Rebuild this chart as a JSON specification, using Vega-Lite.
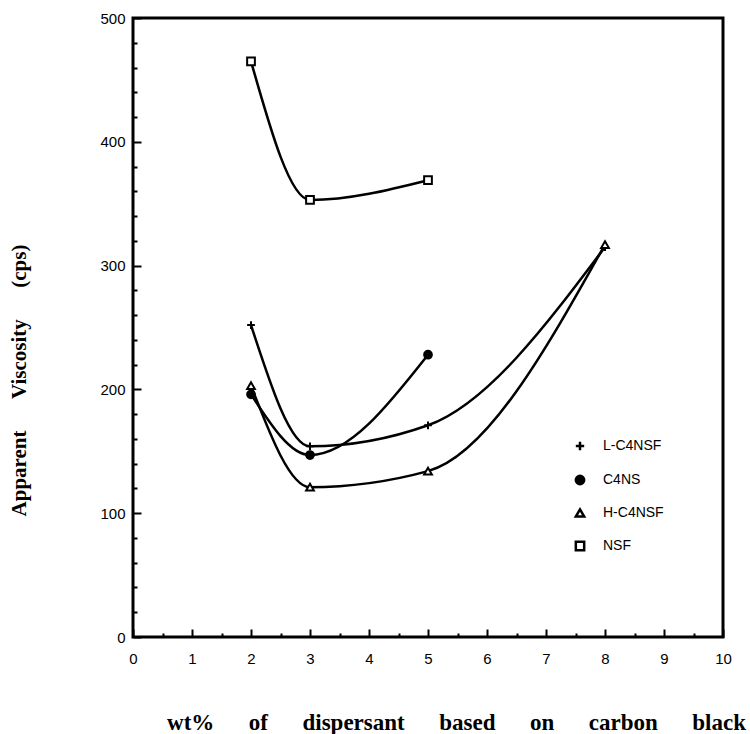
{
  "$schema": "https://vega.github.io/schema/vega-lite/v6.json",
  "width": 590,
  "height": 619,
  "autosize": {"type": "none"},
  "padding": {"left": 133, "top": 18, "right": 27, "bottom": 97},
  "background": "white",
  "config": {
    "view": {"stroke": "black", "strokeWidth": 3},
    "axis": {
      "domain": false,
      "ticks": true,
      "tickColor": "black",
      "tickWidth": 2,
      "tickSize": 8,
      "zindex": 1,
      "grid": false,
      "labelFont": "Liberation Sans",
      "labelFontSize": 15,
      "labelColor": "black",
      "titleFont": "Liberation Serif",
      "titleFontWeight": "bold",
      "titleColor": "black"
    }
  },
  "data": {
    "values": [
      {"series": "NSF", "x": 2, "y": 465},
      {"series": "NSF", "x": 3, "y": 353},
      {"series": "NSF", "x": 5, "y": 369},
      {"series": "L-C4NSF", "x": 2, "y": 252},
      {"series": "L-C4NSF", "x": 3, "y": 154},
      {"series": "L-C4NSF", "x": 5, "y": 171},
      {"series": "L-C4NSF", "x": 8, "y": 315},
      {"series": "C4NS", "x": 2, "y": 196},
      {"series": "C4NS", "x": 3, "y": 147},
      {"series": "C4NS", "x": 5, "y": 228},
      {"series": "H-C4NSF", "x": 2, "y": 203},
      {"series": "H-C4NSF", "x": 3, "y": 121},
      {"series": "H-C4NSF", "x": 5, "y": 134},
      {"series": "H-C4NSF", "x": 8, "y": 317}
    ]
  },
  "encoding": {
    "x": {
      "field": "x", "type": "quantitative",
      "scale": {"domain": [0, 10], "nice": false, "zero": false},
      "axis": {
        "orient": "bottom",
        "offset": -8,
        "values": [0,0.5,1,1.5,2,2.5,3,3.5,4,4.5,5,5.5,6,6.5,7,7.5,8,8.5,9,9.5,10],
        "labelExpr": "datum.value % 1 === 0 ? format(datum.value, 'd') : ''",
        "tickDash": {"condition": {"test": "datum.value % 1 === 0", "value": []}, "value": [0, 4, 4, 4]},
        "labelPadding": 14,
        "labelFlush": false,
        "title": "wt%\u00a0\u00a0\u00a0\u00a0\u00a0\u00a0of\u00a0\u00a0\u00a0\u00a0\u00a0\u00a0dispersant\u00a0\u00a0\u00a0\u00a0\u00a0\u00a0based\u00a0\u00a0\u00a0\u00a0\u00a0\u00a0on\u00a0\u00a0\u00a0\u00a0\u00a0\u00a0carbon\u00a0\u00a0\u00a0\u00a0\u00a0\u00a0black",
        "titleFontSize": 23,
        "titleX": 323,
        "titleY": 100,
        "titleBaseline": "alphabetic",
        "titleAnchor": "middle",
        "titleAlign": "center"
      }
    },
    "y": {
      "field": "y", "type": "quantitative",
      "scale": {"domain": [0, 500], "nice": false},
      "axis": {
        "orient": "left",
        "offset": -8,
        "values": [0,20,40,60,80,100,120,140,160,180,200,220,240,260,280,300,320,340,360,380,400,420,440,460,480,500],
        "labelExpr": "datum.value % 100 === 0 ? format(datum.value, 'd') : ''",
        "tickDash": {"condition": {"test": "datum.value % 100 === 0", "value": []}, "value": [0, 4, 4, 4]},
        "labelPadding": 8,
        "labelFlush": false,
        "title": "Apparent\u00a0\u00a0\u00a0\u00a0\u00a0\u00a0Viscosity\u00a0\u00a0\u00a0\u00a0\u00a0\u00a0(cps)",
        "titleFontSize": 21,
        "titleAngle": -90,
        "titleX": -122,
        "titleY": 362,
        "titleBaseline": "middle",
        "titleAlign": "center"
      }
    }
  },
  "layer": [
    {
      "mark": {"type": "line", "interpolate": "monotone", "color": "black", "strokeWidth": 2.5},
      "encoding": {"detail": {"field": "series"}}
    },
    {
      "mark": {"type": "point", "filled": false, "strokeWidth": 2, "size": 60, "opacity": 1},
      "encoding": {
        "shape": {
          "field": "series", "type": "nominal",
          "scale": {
            "domain": ["L-C4NSF", "C4NS", "H-C4NSF", "NSF"],
            "range": ["M-1,0L1,0M0,-1L0,1", "circle", "triangle-up", "square"]
          },
          "legend": {
            "orient": "none", "legendX": 440, "legendY": 421,
            "title": null,
            "labelFont": "Liberation Sans", "labelFontSize": 14, "labelColor": "black",
            "rowPadding": 14, "labelOffset": 16, "symbolSize": 70, "symbolStrokeWidth": 2.5
          }
        },
        "fill": {
          "field": "series", "type": "nominal",
          "scale": {
            "domain": ["L-C4NSF", "C4NS", "H-C4NSF", "NSF"],
            "range": ["white", "black", "white", "white"]
          },
          "legend": {
            "orient": "none", "legendX": 440, "legendY": 421,
            "title": null,
            "labelFont": "Liberation Sans", "labelFontSize": 14, "labelColor": "black",
            "rowPadding": 14, "labelOffset": 16, "symbolSize": 70, "symbolStrokeWidth": 2.5
          }
        },
        "stroke": {
          "field": "series", "type": "nominal",
          "scale": {
            "domain": ["L-C4NSF", "C4NS", "H-C4NSF", "NSF"],
            "range": ["black", "black", "black", "black"]
          },
          "legend": {
            "orient": "none", "legendX": 440, "legendY": 421,
            "title": null,
            "labelFont": "Liberation Sans", "labelFontSize": 14, "labelColor": "black",
            "rowPadding": 14, "labelOffset": 16, "symbolSize": 70, "symbolStrokeWidth": 2.5
          }
        }
      }
    }
  ]
}
